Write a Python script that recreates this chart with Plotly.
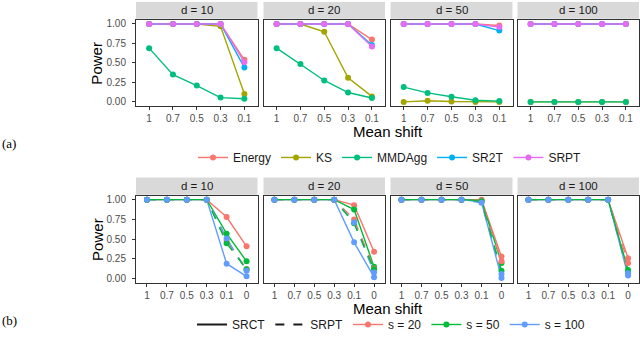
import plotly.graph_objects as go

# ---------------- data ----------------
shift_top = ["1", "0.7", "0.5", "0.3", "0.1"]
shift_bot = ["1", "0.7", "0.5", "0.3", "0.1", "0"]
dims = ["d = 10", "d = 20", "d = 50", "d = 100"]

methods_top = ["Energy", "KS", "MMDAgg", "SR2T", "SRPT"]
energy = [[1, 1, 1, 1, 0.54], [1, 1, 1, 1, 0.80], [1, 1, 1, 1, 0.98], [1, 1, 1, 1, 1]]
ks = [[1, 1, 1, 0.97, 0.10], [1, 1, 0.90, 0.31, 0.07], [0.0, 0.015, 0.005, 0.0, 0.0], [0, 0, 0, 0, 0]]
mmdagg = [[0.69, 0.35, 0.21, 0.055, 0.04], [0.69, 0.485, 0.275, 0.12, 0.05],
          [0.19, 0.115, 0.065, 0.02, 0.01], [0, 0, 0, 0, 0]]
sr2t = [[1, 1, 1, 1, 0.44], [1, 1, 1, 1, 0.73], [1, 1, 1, 1, 0.915], [1, 1, 1, 1, 1]]
srpt = [[1, 1, 1, 1, 0.51], [1, 1, 1, 1, 0.71], [1, 1, 1, 1, 0.96], [1, 1, 1, 1, 1]]
top_values = [energy, ks, mmdagg, sr2t, srpt]

sizes = ["s = 20", "s = 50", "s = 100"]
srct_s20 = [[1, 1, 1, 1, 0.78, 0.41], [1, 1, 1, 1, 0.93, 0.34], [1, 1, 1, 1, 1.0, 0.28], [1, 1, 1, 1, 1, 0.26]]
srct_s50 = [[1, 1, 1, 1, 0.57, 0.22], [1, 1, 1, 1, 0.875, 0.15], [1, 1, 1, 1, 0.99, 0.20], [1, 1, 1, 1, 1, 0.11]]
srct_s100 = [[1, 1, 1, 1, 0.19, 0.03], [1, 1, 1, 1, 0.46, 0.02], [1, 1, 1, 1, 0.97, 0.01], [1, 1, 1, 1, 1, 0.04]]
srpt_s20 = [[1, 1, 1, 1, 0.48, 0.12], [1, 1, 1, 1, 0.75, 0.13], [1, 1, 1, 1, 0.99, 0.22], [1, 1, 1, 1, 1, 0.20]]
srpt_s50 = [[1, 1, 1, 1, 0.45, 0.12], [1, 1, 1, 1, 0.70, 0.12], [1, 1, 1, 1, 0.98, 0.10], [1, 1, 1, 1, 1, 0.08]]
srpt_s100 = [[1, 1, 1, 1, 0.51, 0.10], [1, 1, 1, 1, 0.71, 0.08], [1, 1, 1, 1, 0.96, 0.06], [1, 1, 1, 1, 1, 0.07]]
srct_vals = [srct_s20, srct_s50, srct_s100]
srpt_vals = [srpt_s20, srpt_s50, srpt_s100]

y_ticks = [0, 0.25, 0.5, 0.75, 1]
y_ticktext = ["0.00", "0.25", "0.50", "0.75", "1.00"]

# ---------------- style ----------------
top_colors = ["#F8766D", "#A3A500", "#00BF7D", "#00B0F6", "#E76BF3"]
bot_colors = ["#F8766D", "#00BA38", "#619CFF"]
W, H = 640, 341
FONT = "Liberation Sans, Arial, sans-serif"

def px(x):
    return x / W

def py(y):
    return 1 - y / H

panel_x = [(136, 257.5), (263.5, 385), (390.5, 512.5), (517.5, 639)]
top_y = (18.3, 105)
bot_y = (196, 284)
top_strip = (0, 17)
bot_strip = (177.7, 195)

fig = go.Figure()

def axis_names(row, col):
    idx = row * 4 + col + 1
    s = "" if idx == 1 else str(idx)
    return "x" + s, "y" + s, "xaxis" + s, "yaxis" + s

# top row traces
for c in range(4):
    xn, yn, _, _ = axis_names(0, c)
    for m, name in enumerate(methods_top):
        fig.add_trace(go.Scatter(
            x=shift_top, y=top_values[m][c], mode="lines+markers", name=name,
            line=dict(color=top_colors[m], width=1.4),
            marker=dict(color=top_colors[m], size=6),
            xaxis=xn, yaxis=yn, legend="legend",
            legendgroup=name, showlegend=(c == 0)))

# bottom row traces
for c in range(4):
    xn, yn, _, _ = axis_names(1, c)
    for vals, dash in ((srct_vals, "solid"), (srpt_vals, "dash")):
        for s in (0, 2, 1):
            fig.add_trace(go.Scatter(
                x=shift_bot, y=vals[s][c], mode="lines",
                line=dict(color=bot_colors[s], width=1.4, dash=dash),
                xaxis=xn, yaxis=yn, showlegend=False, hoverinfo="skip"))
    for vals in (srct_vals, srpt_vals):
        for s in range(3):
            fig.add_trace(go.Scatter(
                x=shift_bot, y=vals[s][c], mode="markers",
                marker=dict(color=bot_colors[s], size=6),
                xaxis=xn, yaxis=yn, showlegend=False))

# bottom legend entries
for name, dash in (("SRCT", "solid"), ("SRPT", "dash")):
    fig.add_trace(go.Scatter(x=[None], y=[None], mode="lines", name=name,
                             line=dict(color="#1A1A1A", width=2, dash=dash),
                             xaxis="x5", yaxis="y5", legend="legend2"))
for s, name in enumerate(sizes):
    fig.add_trace(go.Scatter(x=[None], y=[None], mode="lines+markers", name=name,
                             line=dict(color=bot_colors[s], width=1.4),
                             marker=dict(color=bot_colors[s], size=6),
                             xaxis="x5", yaxis="y5", legend="legend2"))

layout = dict(width=W, height=H, margin=dict(l=0, r=0, t=0, b=0),
              paper_bgcolor="white", plot_bgcolor="white",
              font=dict(family=FONT, color="#1A1A1A"), showlegend=True)

shapes = []
annotations = []
for row in range(2):
    cats = shift_top if row == 0 else shift_bot
    ydom = top_y if row == 0 else bot_y
    strip = top_strip if row == 0 else bot_strip
    for c in range(4):
        xn, yn, xk, yk = axis_names(row, c)
        x0, x1 = panel_x[c]
        layout[xk] = dict(
            domain=[px(x0), px(x1)], anchor=yn, type="category",
            categoryorder="array", categoryarray=cats,
            range=[-0.55, len(cats) - 0.45], showgrid=False, zeroline=False,
            showline=True, mirror=True, linecolor="#333333", linewidth=1,
            ticks="outside", ticklen=3, tickcolor="#333333", tickwidth=1,
            tickfont=dict(size=10, color="#4D4D4D", family=FONT),
            ticklabelstandoff=0)
        layout[yk] = dict(
            domain=[py(ydom[1]), py(ydom[0])], anchor=xn, range=[-0.05, 1.05],
            showgrid=False, zeroline=False, showline=True, mirror=True,
            linecolor="#333333", linewidth=1,
            tickvals=y_ticks, ticktext=y_ticktext,
            ticks="outside" if c == 0 else "", ticklen=3, tickcolor="#333333",
            showticklabels=(c == 0),
            tickfont=dict(size=10, color="#4D4D4D", family=FONT),
            ticklabelstandoff=4)
        shapes.append(dict(type="rect", xref="paper", yref="paper",
                           x0=px(x0), x1=px(x1), y0=py(strip[1]), y1=py(strip[0]),
                           fillcolor="#D9D9D9", line=dict(width=0), layer="below"))
        annotations.append(dict(text=dims[c], xref="paper", yref="paper",
                                x=px((x0 + x1) / 2), y=py((strip[0] + strip[1]) / 2),
                                showarrow=False, font=dict(size=11.5, color="#1A1A1A"),
                                xanchor="center", yanchor="middle"))
    # axis titles
    annotations.append(dict(text="Power", xref="paper", yref="paper", x=px(96.7),
                            y=py((ydom[0] + ydom[1]) / 2), textangle=-90, showarrow=False,
                            font=dict(size=15, color="black"),
                            xanchor="center", yanchor="middle"))
    annotations.append(dict(text="Mean shift", xref="paper", yref="paper", x=px(387.5),
                            y=py(131.5 if row == 0 else 310), showarrow=False,
                            font=dict(size=15, color="black"),
                            xanchor="center", yanchor="middle"))

annotations.append(dict(text="(a)", xref="paper", yref="paper", x=px(9), y=py(143),
                        showarrow=False, font=dict(size=13, family="Liberation Serif, serif",
                                                   color="black"),
                        xanchor="center", yanchor="middle"))
annotations.append(dict(text="(b)", xref="paper", yref="paper", x=px(9), y=py(322),
                        showarrow=False, font=dict(size=13, family="Liberation Serif, serif",
                                                   color="black"),
                        xanchor="center", yanchor="middle"))

layout["shapes"] = shapes
layout["annotations"] = annotations
layout["legend"] = dict(orientation="h", x=px(390), xanchor="center", y=py(157.3),
                        yanchor="middle", bgcolor="rgba(0,0,0,0)",
                        font=dict(size=12, color="#1A1A1A"), itemwidth=30)
layout["legend2"] = dict(orientation="h", x=px(391), xanchor="center", y=0,
                         yanchor="bottom", bgcolor="rgba(0,0,0,0)",
                         font=dict(size=12, color="#1A1A1A"), itemwidth=30)

fig.update_layout(**layout)
fig.write_html("out.html", config={"displayModeBar": False},
               post_script="document.body.style.margin='0px';document.body.style.overflow='hidden';")
